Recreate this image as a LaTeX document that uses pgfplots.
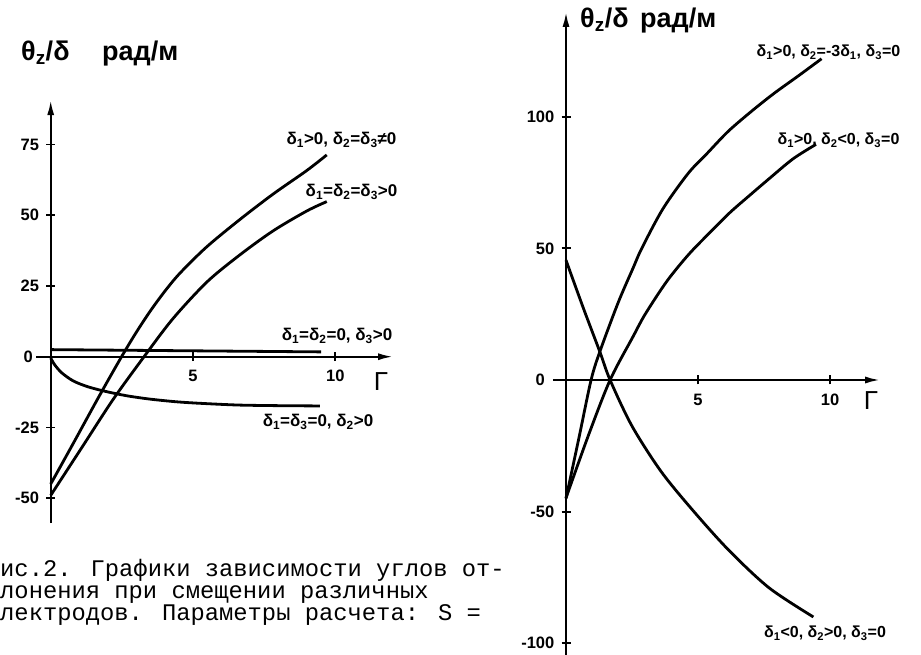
\documentclass[border=0pt]{standalone}
\usepackage{fontspec}
\setmainfont{Liberation Sans}
\newfontfamily\capfont{Liberation Mono}
\usepackage{pgfplots}
\pgfplotsset{compat=1.18}
\usetikzlibrary{arrows.meta}
\newcommand{\sub}[1]{\textsubscript{#1}}
\begin{document}
\begin{tikzpicture}
\path[use as bounding box] (0pt,0pt) rectangle (921pt,654pt);
\pgfplotsset{
  myax/.style={
    axis lines=middle,
    enlargelimits=false,
    clip=false,
    axis line style={line width=2.2pt, -{Latex[length=15pt,width=7pt]}},
    tick style={line width=1.8pt, black},
    major tick length=9pt,
    tick align=center,
    xtick={5,10},
    xticklabels={5,10},
    xticklabel style={anchor=north, inner sep=0pt, yshift=-9pt, font=\fontsize{16.5}{16.5}\selectfont\bfseries},
    yticklabel style={anchor=east, inner sep=0pt, xshift=-7pt, font=\fontsize{16.5}{16.5}\selectfont\bfseries},
    every axis plot/.append style={line width=2.8pt, black, no marks},
  }
}
% ---------------- left chart ----------------
\begin{axis}[myax, x=28.46pt, y=2.83pt, anchor=origin, at={(50.7pt,297.3pt)},
  xmin=-0.5, xmax=12.03, ymin=-58.8, ymax=90.7,
  ytick={-50,-25,25,50,75}, yticklabels={-50,-25,25,50,75}]
\addplot[smooth] coordinates {(0,-45) (0.8,-30.5) (1.7,-14) (2.49,0) (3.0,8.5) (3.49,16) (4.0,23) (4.54,29.5) (5.48,38.8) (6.65,48.5) (7.82,57.5) (9.0,65.8) (9.7,71.3)};
\addplot[smooth] coordinates {(0,-49) (1.1,-32) (2.2,-15) (3.28,0) (4.3,13.5) (5.5,26.5) (6.65,36) (7.82,44.5) (9.0,51.5) (9.7,54.8)};
\addplot[sharp plot] coordinates {(0,2.5) (9.5,1.7)};
\addplot[smooth] coordinates {(0,-0.5) (0.15,-3) (0.4,-5.8) (0.8,-8.6) (1.3,-10.6) (1.9,-12.2) (2.67,-13.8) (3.5,-15) (4.5,-16) (5.5,-16.6) (6.65,-17.1) (8,-17.3) (9.46,-17.4)};
\end{axis}
% ---------------- right chart ----------------
\begin{axis}[myax, x=26.4pt, y=2.633pt, anchor=origin, at={(566pt,274pt)},
  xmin=-0.5, xmax=11.9, ymin=-106, ymax=139.8,
  ytick={-100,-50,50,100}, yticklabels={-100,-50,50,100}]
\addplot[smooth] coordinates {(0,-45) (0.5,-21.5) (0.95,0) (1.29,11) (1.98,29.5) (2.54,42.5) (2.87,50) (3.67,65) (4.63,78.5) (5.34,86) (6.15,94.5) (7.08,102.5) (7.9,109) (8.8,115.5) (9.68,122)};
\addplot[smooth] coordinates {(0,-44.8) (0.85,-21) (1.67,0) (2.54,16.5) (3.0,25) (3.82,37.5) (4.63,47.5) (5.4,55.5) (6.2,63.5) (7.0,70.5) (7.7,76.5) (8.6,84) (9.47,89.5)};
\addplot[smooth] coordinates {(0,45.5) (0.65,27.5) (1.29,10.5) (1.67,0) (2.5,-17.5) (3.62,-35) (4.89,-50.5) (6.2,-65) (7.7,-79) (9.37,-90)};
\end{axis}
% ---------------- texts ----------------
\begin{scope}[every node/.style={inner sep=0pt}]
\node[anchor=east, font=\fontsize{16.5}{16.5}\selectfont\bfseries] at (33pt,297pt) {0};
\node[anchor=east, font=\fontsize{16.5}{16.5}\selectfont\bfseries] at (545pt,274pt) {0};
\node[font=\fontsize{26}{26}\selectfont] at (381pt,272pt) {Γ};
\node[font=\fontsize{26}{26}\selectfont] at (871pt,253pt) {Γ};
\node[anchor=base west, font=\fontsize{27}{27}\selectfont\bfseries] at (21pt,593pt) {θ\sub{z}/δ};
\node[anchor=base west, font=\fontsize{27}{27}\selectfont\bfseries] at (102pt,593pt) {рад/м};
\node[anchor=base west, font=\fontsize{27}{27}\selectfont\bfseries] at (580pt,626pt) {θ\sub{z}/δ};
\node[anchor=base west, font=\fontsize{27}{27}\selectfont\bfseries] at (640pt,626pt) {рад/м};
\node[font=\fontsize{17}{17}\selectfont\bfseries] at (341.5pt,514pt) {δ\sub{1}>0, δ\sub{2}=δ\sub{3}≠0};
\node[font=\fontsize{17}{17}\selectfont\bfseries] at (351.5pt,462pt) {δ\sub{1}=δ\sub{2}=δ\sub{3}>0};
\node[font=\fontsize{17}{17}\selectfont\bfseries] at (337pt,318pt) {δ\sub{1}=δ\sub{2}=0, δ\sub{3}>0};
\node[font=\fontsize{17}{17}\selectfont\bfseries] at (318pt,232pt) {δ\sub{1}=δ\sub{3}=0, δ\sub{2}>0};
\node[font=\fontsize{16}{16}\selectfont\bfseries] at (828.5pt,602pt) {δ\sub{1}>0, δ\sub{2}=-3δ\sub{1}, δ\sub{3}=0};
\node[font=\fontsize{16}{16}\selectfont\bfseries] at (838.5pt,514pt) {δ\sub{1}>0, δ\sub{2}<0, δ\sub{3}=0};
\node[font=\fontsize{16}{16}\selectfont\bfseries] at (825pt,21pt) {δ\sub{1}<0, δ\sub{2}>0, δ\sub{3}=0};
\node[anchor=base west] at (0pt,77.3pt) {\parbox[t]{510pt}{\raggedright\capfont\fontsize{23.8}{21.65}\selectfont
ис.2. Графики зависимости углов от-\\
лонения при смещении различных\\
лектродов. Параметры расчета: S =}};
\end{scope}
\end{tikzpicture}
\end{document}
